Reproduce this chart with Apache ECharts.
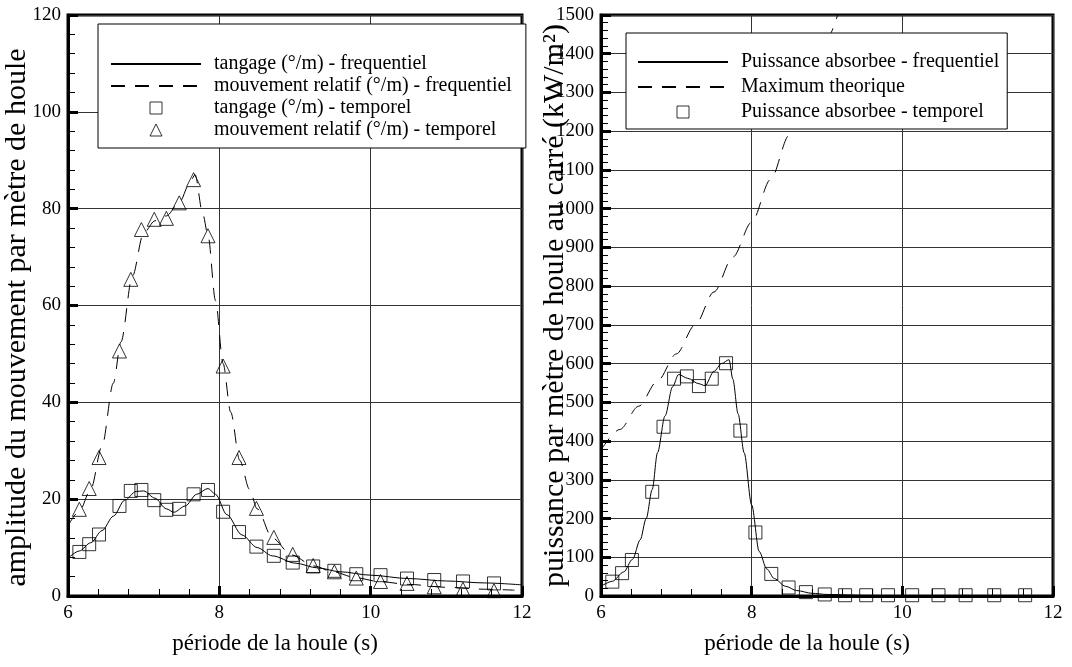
<!DOCTYPE html>
<html><head><meta charset="utf-8">
<script src="https://cdn.jsdelivr.net/npm/echarts/dist/echarts.min.js"></script>
<style>html,body{margin:0;padding:0;background:#fff}#c{width:1072px;height:667px}</style>
</head><body><div id="c"></div>
<script>
// ---- data ----
const periods = [6.15,6.28,6.41,6.68,6.83,6.97,7.14,7.30,7.47,7.66,7.85,8.05,8.26,8.49,8.72,8.97,9.24,9.52,9.81,10.13,10.48,10.84,11.22,11.63];
const tangageTemporel = [9.1,10.7,12.7,18.6,21.7,21.9,19.8,17.8,18.0,21.0,21.9,17.4,13.2,10.2,8.3,6.9,6.1,5.2,4.5,4.3,3.6,3.3,3.0,2.6];
const mouvementTemporel = [17.9,22.2,28.6,50.6,65.4,75.7,77.8,78.0,81.2,86.0,74.4,47.5,28.6,18.1,12.1,8.6,6.3,5.0,3.7,3.0,2.6,1.9,1.4,1.1];
const puissanceTemporel = [37,59,93,269,437,561,567,542,561,601,427,164,57,22,10,4,2,2,2,2,2,2,2,2];

const tangageFreqX = [6.0,6.15,6.3,6.45,6.6,6.75,6.9,7.0,7.15,7.3,7.4,7.55,7.7,7.85,7.95,8.1,8.3,8.5,8.7,9.0,9.3,9.6,10.0,10.5,11.0,11.5,12.0];
const tangageFreqY = [7.8,9.3,11.0,13.5,16.5,19.8,21.6,21.7,20.2,18.0,17.3,18.6,21.0,22.2,21.0,16.8,12.6,10.0,8.3,6.8,5.8,5.0,4.3,3.6,3.1,2.7,2.3];

const mouvementFreqX = [6.0,6.15,6.3,6.45,6.6,6.7,6.85,7.0,7.15,7.3,7.48,7.6,7.68,7.78,7.85,7.95,8.05,8.15,8.27,8.4,8.5,8.7,8.95,9.25,9.5,9.8,10.1,10.5,11.0,11.5,11.9];
const mouvementFreqY = [14.5,17.5,22,31,44,52.5,66,75,77.5,78.5,81.5,85,87,79,74.5,61,48,38,28,22,18,12,8.5,6.2,5.0,3.8,3.0,2.4,1.8,1.4,1.2];

const puissanceFreqX = [6.0,6.15,6.3,6.42,6.52,6.6,6.68,6.75,6.85,6.95,7.03,7.15,7.3,7.38,7.5,7.6,7.7,7.75,7.82,7.9,8.0,8.1,8.2,8.3,8.45,8.6,8.8,9.0,9.5,10,11,12];
const puissanceFreqY = [25,38,62,95,145,200,275,370,465,540,572,562,548,543,580,600,610,560,470,370,235,115,70,45,25,14,7,4,1.5,1,0.5,0.3];

const maxTheoX = [6.0,6.25,6.5,6.75,7.0,7.25,7.5,7.75,8.0,8.25,8.5,8.75,9.0,9.25];
const maxTheoY = [377,430,490,555,625,700,785,875,965,1075,1190,1310,1440,1575];

const xTitle = 'période de la houle (s)';
const yTitleLeft = 'amplitude du mouvement par mètre de houle';
const yTitleRight = 'puissance par mètre de houle au carré (kW/m²)';
const namesLeft = ['tangage (°/m) - frequentiel','mouvement relatif (°/m) - frequentiel','tangage (°/m) - temporel','mouvement relatif (°/m) - temporel'];
const namesRight = ['Puissance absorbee - frequentiel','Maximum theorique','Puissance absorbee - temporel'];

// ---- build ----
const F = 'Liberation Serif';
const DASH = [14,10];
const ICON_RECT = 'path://M0,0H12V12H0Z';
const ICON_TRI = 'path://M6,0L12,12H0Z';
const zip = (a,b) => a.map((v,i)=>[v,b[i]]);

function xAxisCfg(gi){
  return {
    type:'value', gridIndex:gi, min:6, max:12, interval:2,
    name:xTitle, nameLocation:'middle', nameGap:36, nameMoveOverlap:false,
    nameTextStyle:{fontFamily:F, fontSize:23, color:'#000', padding:[0,40,0,0]},
    axisLine:{show:true, onZero:false, lineStyle:{color:'#000', width:3}},
    axisTick:{show:true, inside:true, length:10, lineStyle:{color:'#000', width:3}},
    minorTick:{show:true, splitNumber:5, length:7, lineStyle:{color:'#000', width:1}},
    axisLabel:{fontFamily:F, fontSize:19, color:'#000', margin:8, showMinLabel:true, showMaxLabel:true},
    splitLine:{show:true, lineStyle:{color:'#333', width:1}}
  };
}
function yAxisCfg(gi, max, interval, name, gap, pad){
  return {
    type:'value', gridIndex:gi, min:0, max:max, interval:interval,
    name:name, nameLocation:'middle', nameRotate:90, nameGap:gap, nameMoveOverlap:false,
    nameTextStyle:{fontFamily:F, fontSize:30, color:'#000', padding:pad},
    axisLine:{show:true, onZero:false, lineStyle:{color:'#000', width:3}},
    axisTick:{show:true, inside:true, length:10, lineStyle:{color:'#000', width:3}},
    minorTick:{show:true, splitNumber:5, length:7, lineStyle:{color:'#000', width:1}},
    axisLabel:{fontFamily:F, fontSize:19, color:'#000', margin:7, showMinLabel:true, showMaxLabel:true,
               formatter:(v)=>String(v)},
    splitLine:{show:true, lineStyle:{color:'#333', width:1}}
  };
}
const lineS = (name, xi, x, y, dashed) => ({
  type:'line', name, xAxisIndex:xi, yAxisIndex:xi, data:zip(x,y),
  symbol:'none', showSymbol:false, smooth:0.3, smoothMonotone:'x', clip:true,
  lineStyle:{color:'#000', width:1, type: dashed ? DASH : 'solid'},
  itemStyle:{color:'#000'}, z:3
});
const scatS = (name, xi, y, sym, size) => ({
  type:'scatter', name, xAxisIndex:xi, yAxisIndex:xi, data:zip(periods,y),
  symbol:sym, symbolSize:size,
  itemStyle:{color:'rgba(0,0,0,0)', borderColor:'#000', borderWidth:1}, z:4
});
const legLine = (name) => ({name, itemStyle:{color:'rgba(0,0,0,0)', borderWidth:0, opacity:0}});
const legSym = (name, icon) => ({name, icon, itemStyle:{color:'rgba(0,0,0,0)', borderColor:'#000', borderWidth:1}});
const legendCfg = (data, left, top, padding, gap) => ({
  data, left, top, orient:'vertical', padding, itemWidth:90, itemHeight:12, itemGap:gap,
  symbolKeepAspect:true,
  backgroundColor:'#fff', borderColor:'#000', borderWidth:1, selectedMode:false,
  textStyle:{fontFamily:F, fontSize:20, color:'#000', padding:[0,0,0,8]}
});

const option = {
  animation:false,
  backgroundColor:'#fff',
  grid:[
    {left:68, right:550, top:15, bottom:71, show:true, borderColor:'#000', borderWidth:3, backgroundColor:'rgba(0,0,0,0)'},
    {left:601, right:19, top:15, bottom:71, show:true, borderColor:'#000', borderWidth:3, backgroundColor:'rgba(0,0,0,0)'}
  ],
  xAxis:[xAxisCfg(0), xAxisCfg(1)],
  yAxis:[yAxisCfg(0,120,20,yTitleLeft,36,[0,24,0,0]), yAxisCfg(1,1500,100,yTitleRight,31,[0,0,0,0])],
  legend:[
    legendCfg([legLine(namesLeft[0]),legLine(namesLeft[1]),legSym(namesLeft[2],ICON_RECT),legSym(namesLeft[3],ICON_TRI)], 98, 24, [30,14,8,12], 2),
    legendCfg([legLine(namesRight[0]),legLine(namesRight[1]),legSym(namesRight[2],ICON_RECT)], 626, 33, [19,8,7,11], 5)
  ],
  series:[
    lineS(namesLeft[0],0,tangageFreqX,tangageFreqY,false),
    lineS(namesLeft[1],0,mouvementFreqX,mouvementFreqY,true),
    scatS(namesLeft[2],0,tangageTemporel,'rect',13),
    scatS(namesLeft[3],0,mouvementTemporel,'triangle',14),
    lineS(namesRight[0],1,puissanceFreqX,puissanceFreqY,false),
    lineS(namesRight[1],1,maxTheoX,maxTheoY,true),
    scatS(namesRight[2],1,puissanceTemporel,'rect',13)
  ]
};
const chart = echarts.init(document.getElementById('c'), null, {renderer:'canvas'});
chart.setOption(option);
</script></body></html>
